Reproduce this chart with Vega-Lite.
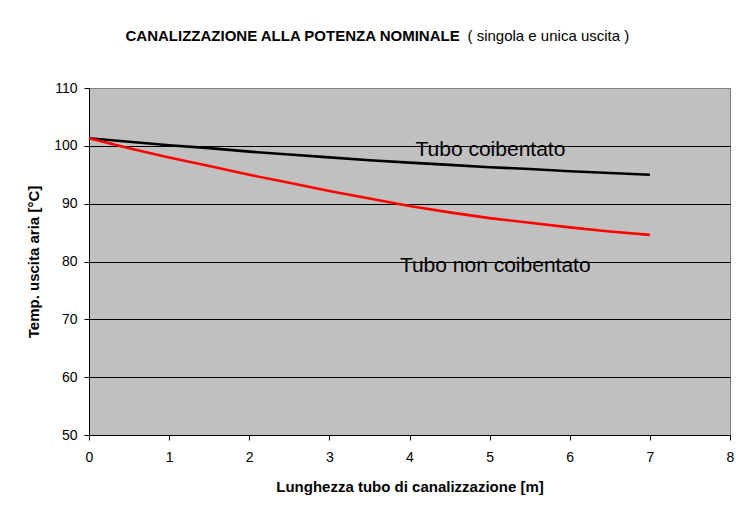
{
  "$schema": "https://vega.github.io/schema/vega-lite/v6.json",
  "width": 641,
  "height": 347,
  "autosize": {"type": "none"},
  "padding": {"left": 89, "top": 88, "right": 6, "bottom": 73},
  "background": "white",
  "config": {
    "font": "Liberation Sans",
    "view": {"fill": "#C0C0C0", "stroke": "#808080", "strokeWidth": 1},
    "axis": {"labelFont": "Liberation Sans", "titleFont": "Liberation Sans", "labelColor": "black", "titleColor": "black"}
  },
  "datasets": {
    "curve": [
      {"x": 0, "temp": 101.3, "serie": "Tubo coibentato"},
      {"x": 0.5, "temp": 100.7, "serie": "Tubo coibentato"},
      {"x": 1, "temp": 100.1, "serie": "Tubo coibentato"},
      {"x": 1.5, "temp": 99.6, "serie": "Tubo coibentato"},
      {"x": 2, "temp": 99.0, "serie": "Tubo coibentato"},
      {"x": 2.5, "temp": 98.5, "serie": "Tubo coibentato"},
      {"x": 3, "temp": 98.0, "serie": "Tubo coibentato"},
      {"x": 3.5, "temp": 97.5, "serie": "Tubo coibentato"},
      {"x": 4, "temp": 97.1, "serie": "Tubo coibentato"},
      {"x": 4.5, "temp": 96.7, "serie": "Tubo coibentato"},
      {"x": 5, "temp": 96.3, "serie": "Tubo coibentato"},
      {"x": 5.5, "temp": 96.0, "serie": "Tubo coibentato"},
      {"x": 6, "temp": 95.6, "serie": "Tubo coibentato"},
      {"x": 6.5, "temp": 95.3, "serie": "Tubo coibentato"},
      {"x": 7, "temp": 95.0, "serie": "Tubo coibentato"},
      {"x": 0, "temp": 101.3, "serie": "Tubo non coibentato"},
      {"x": 0.5, "temp": 99.6, "serie": "Tubo non coibentato"},
      {"x": 1, "temp": 98.0, "serie": "Tubo non coibentato"},
      {"x": 1.5, "temp": 96.5, "serie": "Tubo non coibentato"},
      {"x": 2, "temp": 95.0, "serie": "Tubo non coibentato"},
      {"x": 2.5, "temp": 93.6, "serie": "Tubo non coibentato"},
      {"x": 3, "temp": 92.2, "serie": "Tubo non coibentato"},
      {"x": 3.5, "temp": 90.9, "serie": "Tubo non coibentato"},
      {"x": 4, "temp": 89.6, "serie": "Tubo non coibentato"},
      {"x": 4.5, "temp": 88.5, "serie": "Tubo non coibentato"},
      {"x": 5, "temp": 87.5, "serie": "Tubo non coibentato"},
      {"x": 5.5, "temp": 86.7, "serie": "Tubo non coibentato"},
      {"x": 6, "temp": 85.9, "serie": "Tubo non coibentato"},
      {"x": 6.5, "temp": 85.2, "serie": "Tubo non coibentato"},
      {"x": 7, "temp": 84.6, "serie": "Tubo non coibentato"}
    ],
    "labels": [
      {"x": 5.01, "temp": 98.2, "label": "Tubo coibentato"},
      {"x": 5.07, "temp": 78.2, "label": "Tubo non coibentato"}
    ]
  },
  "layer": [
    {
      "data": {"name": "curve"},
      "mark": {"type": "line", "strokeWidth": 2.6, "clip": false},
      "encoding": {
        "x": {
          "field": "x", "type": "quantitative",
          "scale": {"domain": [0, 8], "nice": false, "zero": false},
          "axis": {
            "orient": "bottom",
            "values": [0, 1, 2, 3, 4, 5, 6, 7, 8],
            "title": "Lunghezza tubo di canalizzazione [m]",
            "titleFontSize": 15, "titleFontWeight": "bold", "titlePadding": 15,
            "labelFontSize": 14, "labelPadding": 10, "labelFlush": false,
            "tickSize": 5, "tickColor": "black", "domainColor": "black",
            "grid": false
          }
        },
        "y": {
          "field": "temp", "type": "quantitative",
          "scale": {"domain": [50, 110], "nice": false, "zero": false},
          "axis": {
            "orient": "left",
            "values": [50, 60, 70, 80, 90, 100, 110],
            "title": "Temp. uscita aria [°C]",
            "titleFontSize": 15, "titleFontWeight": "bold", "titlePadding": 12,
            "labelFontSize": 14, "labelPadding": 7,
            "tickSize": 5, "tickColor": "black", "domainColor": "black",
            "grid": true,
            "gridColor": {"condition": {"test": "datum.value == 110", "value": "#808080"}, "value": "#000000"},
            "gridOpacity": 1
          }
        },
        "color": {
          "field": "serie", "type": "nominal",
          "scale": {"domain": ["Tubo coibentato", "Tubo non coibentato"], "range": ["#000000", "#FF0000"]},
          "legend": null
        },
        "order": {"field": "x", "type": "quantitative"}
      }
    },
    {
      "data": {"name": "labels"},
      "mark": {"type": "text", "fontSize": 21, "font": "Liberation Sans", "align": "center", "baseline": "alphabetic", "color": "black"},
      "encoding": {
        "x": {
          "field": "x", "type": "quantitative",
          "axis": {
            "orient": "top",
            "title": "CANALIZZAZIONE ALLA POTENZA NOMINALE",
            "titleFontSize": 15, "titleFontWeight": "bold",
            "titleX": 36, "titleY": -48, "titleAlign": "left", "titleAnchor": "start", "titleBaseline": "alphabetic", "titleAngle": 0,
            "labels": false, "ticks": false, "domain": false, "grid": false
          }
        },
        "y": {
          "field": "temp", "type": "quantitative",
          "axis": {
            "orient": "right",
            "title": "( singola e unica uscita )",
            "titleFontSize": 15, "titleFontWeight": "normal",
            "titleX": -263, "titleY": -48, "titleAlign": "left", "titleBaseline": "alphabetic", "titleAngle": 0,
            "labels": false, "ticks": false, "domain": false, "grid": false
          }
        },
        "text": {"field": "label", "type": "nominal"}
      }
    }
  ],
  "resolve": {"axis": {"x": "independent", "y": "independent"}}
}
